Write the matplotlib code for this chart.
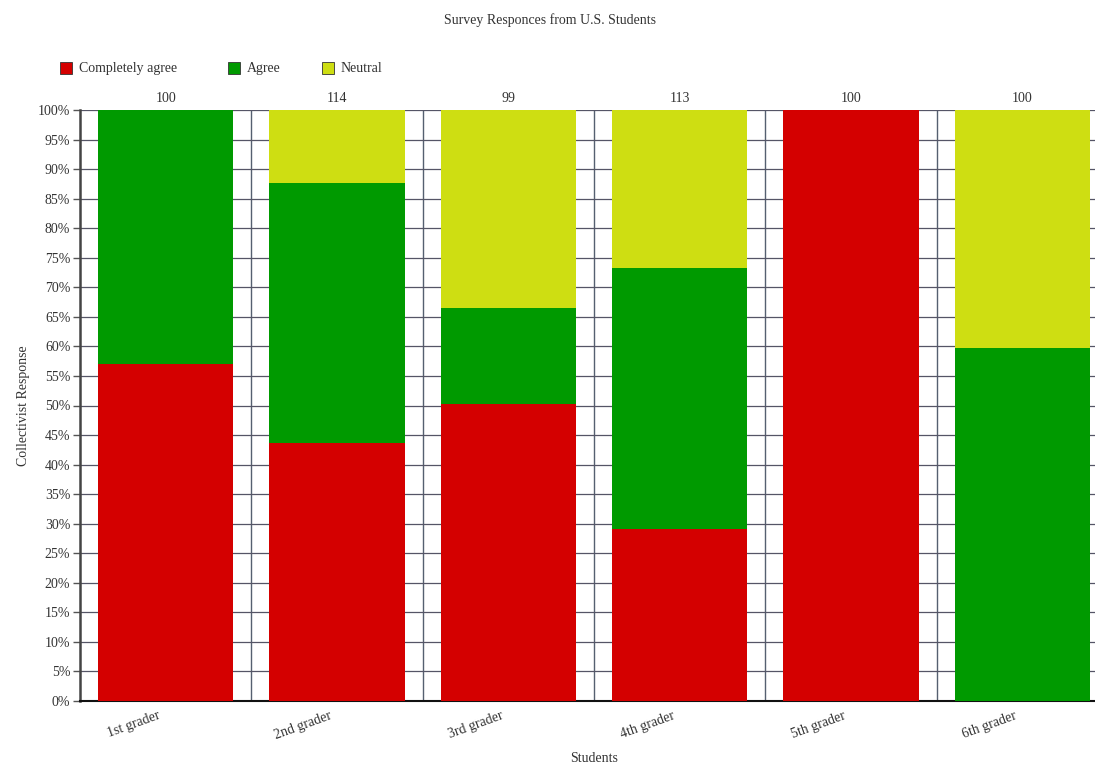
import matplotlib
matplotlib.use("Agg")
import matplotlib.pyplot as plt
import matplotlib.transforms as mtransforms
import numpy as np

categories = ["1st grader", "2nd grader", "3rd grader", "4th grader", "5th grader", "6th grader"]
totals = [100, 114, 99, 113, 100, 100]
completely_agree = [57.0, 43.7, 50.3, 29.1, 100.0, 0.0]
agree = [43.0, 44.0, 16.2, 44.2, 0.0, 59.8]
neutral = [0.0, 12.3, 33.5, 26.7, 0.0, 40.2]
series_names = ["Completely agree", "Agree", "Neutral"]
colors = ["#D40000", "#009A00", "#CEDE12"]

plt.rcParams['font.family'] = ['Liberation Serif', 'DejaVu Serif']

fig = plt.figure(figsize=(10.95, 7.68), dpi=100)
W, H = 1095, 768
left, right, top, bottom = 80, 1108, 110, 701
ax = fig.add_axes([left / W, 1 - bottom / H, (right - left) / W, (bottom - top) / H])

x = np.arange(len(categories))
bw = 0.79
base = np.zeros(len(categories))
for vals, name, c in zip([completely_agree, agree, neutral], series_names, colors):
    ax.bar(x, vals, bw, bottom=base, color=c, label=name, zorder=3, linewidth=0)
    base = base + np.array(vals)

ax.set_xlim(-0.5, len(categories) - 0.5)
ax.set_ylim(0, 100)
ax.set_yticks(np.arange(0, 101, 5))
ax.set_yticklabels([f"{v}%" for v in range(0, 101, 5)], fontsize=10, color="#333333")
ax.yaxis.grid(True, color="#555566", linewidth=0.9, zorder=0)
for b in np.arange(0.5, len(categories) - 0.5, 1):
    ax.axvline(b, color="#556070", linewidth=1.0, zorder=1)
ax.tick_params(axis='y', length=5, width=1, color="#555555", pad=2)
ax.tick_params(axis='x', length=0, pad=6)

ax.set_xticks(x)
ax.set_xticklabels(categories, rotation=20, ha='right', rotation_mode='anchor', fontsize=10, color="#333333")
offset = mtransforms.ScaledTranslation(-8 / 100, 0, fig.dpi_scale_trans)
for lab in ax.get_xticklabels():
    lab.set_transform(lab.get_transform() + offset)

for s in ['top', 'right']:
    ax.spines[s].set_visible(False)
ax.spines['left'].set_color("#444444")
ax.spines['left'].set_linewidth(1.8)
ax.spines['bottom'].set_color("#111111")
ax.spines['bottom'].set_linewidth(1.5)

for xi, t in zip(x, totals):
    ax.text(xi, 100.8, str(t), ha='center', va='bottom', fontsize=10, color="#333333")

ax.set_ylabel("Collectivist Response", fontsize=10, color="#333333", labelpad=6)
fig.text(594 / W, 1 - 759 / H, "Students", ha='center', va='center', fontsize=10, color="#333333")

fig.text(550 / W, 1 - 20 / H, "Survey Responces from U.S. Students", ha='center', va='center', fontsize=10, color="#333333")

# legend drawn manually to match item positions
leg_x = [60, 228, 322]
leg_y = 68
sq = 12
for lx, name, c in zip(leg_x, series_names, colors):
    fig.add_artist(plt.Rectangle((lx / W, 1 - (leg_y + sq / 2) / H), sq / W, sq / H,
                                 transform=fig.transFigure, facecolor=c, edgecolor="#333333", linewidth=0.6))
    fig.text((lx + sq + 7) / W, 1 - (leg_y + 4) / H, name, ha='left', va='baseline', fontsize=10, color="#333333")

fig.savefig("out.png", dpi=100)
